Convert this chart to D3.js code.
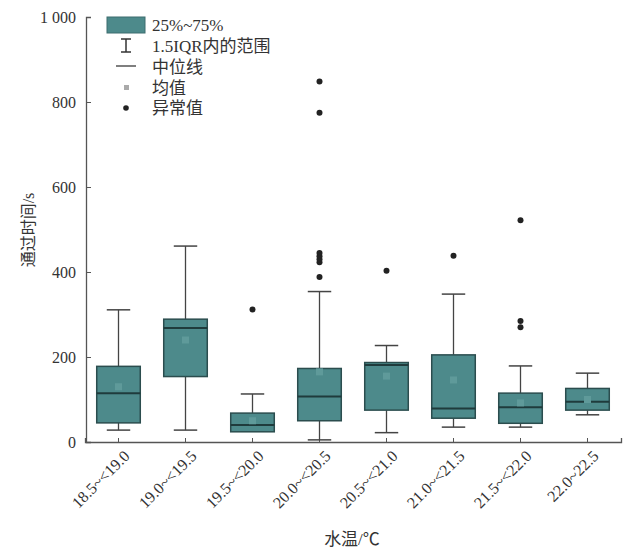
<!DOCTYPE html>
<html>
<head>
<meta charset="utf-8">
<script src="https://cdn.jsdelivr.net/npm/d3@7"></script>
<style>
  html, body { margin: 0; padding: 0; background: #fff; }
  svg { display: block; }
  text { font-family: "Liberation Serif", "Noto Sans CJK SC", serif; fill: #333; }
</style>
</head>
<body>
<svg id="chart" width="625" height="558"></svg>
<script>
// Water temperature classes
const categories = ["18.5~<19.0", "19.0~<19.5", "19.5~<20.0", "20.0~<20.5",
                    "20.5~<21.0", "21.0~<21.5", "21.5~<22.0", "22.0~22.5"];
// Box statistics (s)
const q1          = [45, 154, 24, 50, 75, 56, 44, 75];
const medians     = [115, 268, 40, 107, 181, 79, 82, 95];
const q3          = [178, 289, 68, 173, 187, 205, 115, 126];
const whiskerLow  = [28, 28, 26, 5, 22, 35, 35, 64];
const whiskerHigh = [311, 461, 113, 354, 227, 348, 179, 162];
const means       = [130, 240, 50, 165, 155, 146, 92, 100];
const outliers    = [[], [], [312], [388, 423, 430, 437, 445, 775, 848], [403], [438], [270, 285, 522], []];
const yTicks      = [0, 200, 400, 600, 800, 1000];

const legendItems = ["25%~75%", "1.5IQR内的范围", "中位线", "均值", "异常值"];

const boxFill = "#4d8a8b", boxStroke = "#2b4d4e", meanFill = "#5f9a9a";

const svg = d3.select("#chart");
const x = d3.scaleBand().domain(categories).range([85, 621]).padding(0);
const y = d3.scaleLinear().domain([0, 1000]).range([442, 17]);
const bw = x.bandwidth() * 0.65;
const capW = x.bandwidth() * 0.35;

// Y axis (ticks inside)
const yAxis = d3.axisLeft(y).tickValues(yTicks).tickSize(-5).tickPadding(10)
  .tickFormat(d => d === 1000 ? "1 000" : d3.format("d")(d));
const gy = svg.append("g").attr("transform", "translate(86,0)").call(yAxis);
gy.select(".domain").attr("stroke", "#555").attr("stroke-width", 1.3);
gy.selectAll(".tick line").attr("stroke", "#555");
gy.selectAll(".tick text").attr("font-size", 16).attr("fill", "#333")
  .style("font-family", "'Liberation Serif', serif");

// X axis
const xAxis = d3.axisBottom(x).tickSize(-4).tickPadding(8);
const gx = svg.append("g").attr("transform", "translate(0,442)").call(xAxis);
gx.select(".domain").attr("stroke", "#555").attr("stroke-width", 1.3);
gx.selectAll(".tick line").attr("stroke", "#555");
gx.selectAll(".tick text")
  .attr("font-size", 16).attr("fill", "#333")
  .attr("text-anchor", "end").attr("dy", "0.3em")
  .attr("transform", "translate(3,6) rotate(-45)")
  .style("font-family", "'Liberation Serif', serif");

// Boxes
const g = svg.append("g");
categories.forEach((c, i) => {
  const cx = x(c) + x.bandwidth() / 2;
  const bg = g.append("g");
  // whisker stems
  bg.append("line").attr("x1", cx).attr("x2", cx)
    .attr("y1", y(whiskerHigh[i])).attr("y2", y(q3[i]))
    .attr("stroke", "#444").attr("stroke-width", 1.3);
  bg.append("line").attr("x1", cx).attr("x2", cx)
    .attr("y1", y(q1[i])).attr("y2", y(whiskerLow[i]))
    .attr("stroke", "#444").attr("stroke-width", 1.3);
  // caps
  [whiskerHigh[i], whiskerLow[i]].forEach(v => {
    bg.append("line").attr("x1", cx - capW / 2).attr("x2", cx + capW / 2)
      .attr("y1", y(v)).attr("y2", y(v))
      .attr("stroke", "#444").attr("stroke-width", 1.5);
  });
  // box
  bg.append("rect").attr("x", cx - bw / 2).attr("width", bw)
    .attr("y", y(q3[i])).attr("height", y(q1[i]) - y(q3[i]))
    .attr("fill", boxFill).attr("stroke", boxStroke).attr("stroke-width", 1.5);
  // median
  bg.append("line").attr("x1", cx - bw / 2).attr("x2", cx + bw / 2)
    .attr("y1", y(medians[i])).attr("y2", y(medians[i]))
    .attr("stroke", "#1f3b3c").attr("stroke-width", 2);
  // mean
  bg.append("rect").attr("x", cx - 3.5).attr("y", y(means[i]) - 3.5)
    .attr("width", 7).attr("height", 7).attr("fill", meanFill);
  // outliers
  bg.selectAll("circle").data(outliers[i]).join("circle")
    .attr("cx", cx).attr("cy", d => y(d)).attr("r", 3)
    .attr("fill", "#222");
});

// Legend
const lg = svg.append("g");
const rowY = [25, 46, 67, 88, 108];
lg.append("rect").attr("x", 107).attr("y", 17).attr("width", 38).attr("height", 16)
  .attr("fill", boxFill).attr("stroke", "#3d6d6e").attr("stroke-width", 1);
// whisker symbol
lg.append("line").attr("x1", 126).attr("x2", 126).attr("y1", 39).attr("y2", 52).attr("stroke", "#333").attr("stroke-width", 1.5);
lg.append("line").attr("x1", 121).attr("x2", 131).attr("y1", 39).attr("y2", 39).attr("stroke", "#333").attr("stroke-width", 1.5);
lg.append("line").attr("x1", 121).attr("x2", 131).attr("y1", 52).attr("y2", 52).attr("stroke", "#333").attr("stroke-width", 1.5);
// median symbol
lg.append("line").attr("x1", 116).attr("x2", 136).attr("y1", 66).attr("y2", 66).attr("stroke", "#555").attr("stroke-width", 1.5);
// mean symbol
lg.append("rect").attr("x", 124).attr("y", 85).attr("width", 5).attr("height", 5).attr("fill", "#aaa");
// outlier symbol
lg.append("circle").attr("cx", 126).attr("cy", 108).attr("r", 2.8).attr("fill", "#222");
lg.selectAll("text.leg").data(legendItems).join("text").attr("class", "leg")
  .attr("x", 152).attr("y", (d, i) => rowY[i]).attr("dy", "0.35em")
  .attr("font-size", 17).text(d => d);

// Axis titles
svg.append("text").attr("transform", "translate(28,230) rotate(-90)")
  .attr("text-anchor", "middle").attr("dy", "0.35em").attr("font-size", 16)
  .text("通过时间/s");
svg.append("text").attr("x", 352).attr("y", 545).attr("text-anchor", "middle")
  .attr("font-size", 17).text("水温/℃");
</script>
</body>
</html>
